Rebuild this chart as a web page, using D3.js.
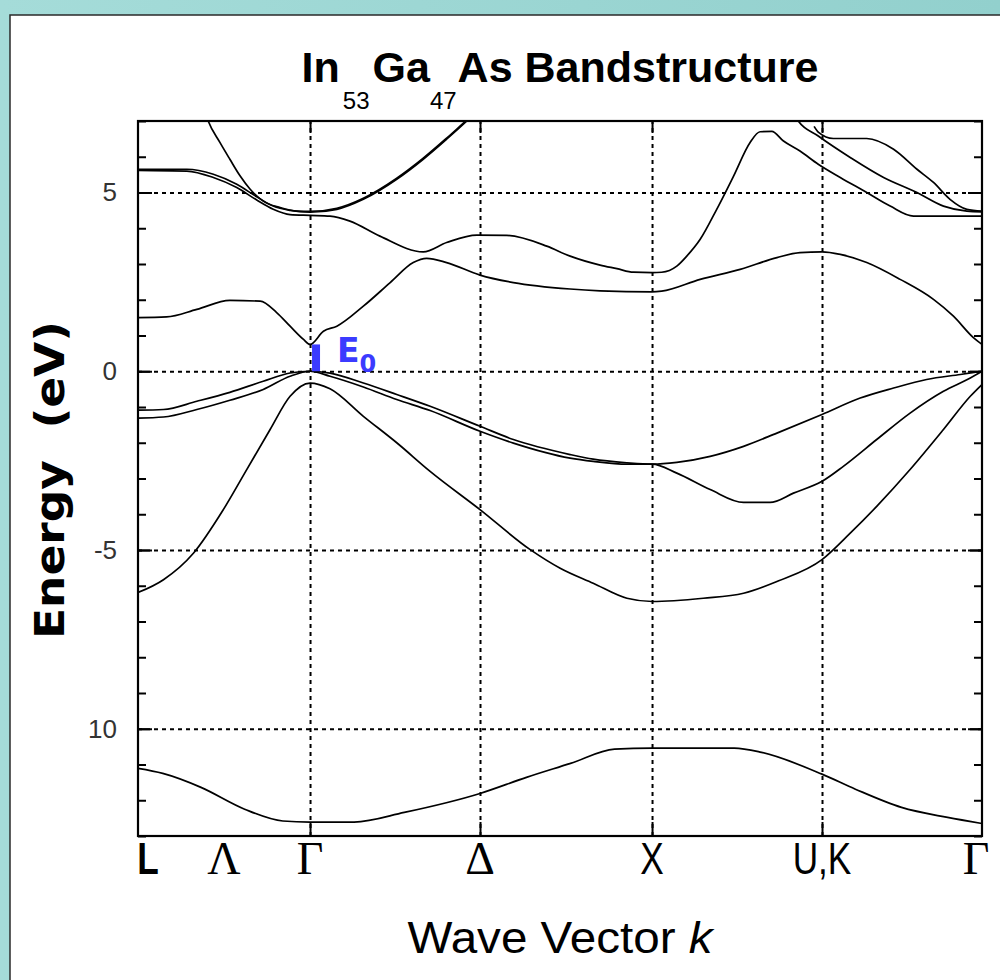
<!DOCTYPE html>
<html>
<head>
<meta charset="utf-8">
<script src="https://cdn.jsdelivr.net/npm/d3@7"></script>
<style>
html, body { margin: 0; padding: 0; background: #9dd8d5; }
svg { display: block; }
</style>
</head>
<body>
<svg id="chart" width="1000" height="980"></svg>
<script>
// symmetry points along the k path (arbitrary units)
const kPoints = [0, 0.25, 0.5, 0.994, 1.494, 1.988, 2.453];
const kLabels = ["L", "Λ", "Γ", "Δ", "X", "U,K", "Γ"];
const gridK = [0.5, 0.994, 1.494, 1.988];
const eTicks = [5, 0, -5, -10];
const eTickLabels = ["5", "0", "-5", "10"];
const gapE0 = 0.75;

// bands, [k, energy in eV]
const bandS = [[0,-11.11],[0.072,-11.25],[0.183,-11.64],[0.310,-12.25],[0.421,-12.58],[0.5,-12.61],[0.628,-12.61],[0.774,-12.34],[0.994,-11.81],[1.129,-11.36],[1.257,-10.97],[1.385,-10.57],[1.494,-10.54],[1.733,-10.54],[1.812,-10.66],[1.988,-11.27],[2.085,-11.69],[2.219,-12.20],[2.353,-12.48],[2.453,-12.65]];
const bandSO = [[0,-6.19],[0.074,-5.83],[0.161,-5.09],[0.248,-3.87],[0.316,-2.75],[0.384,-1.63],[0.442,-0.70],[0.5,-0.33],[0.558,-0.49],[0.655,-1.26],[0.752,-2.0],[0.849,-2.8],[0.994,-3.87],[1.140,-4.99],[1.227,-5.51],[1.323,-5.93],[1.421,-6.35],[1.494,-6.44],[1.643,-6.35],[1.760,-6.21],[1.857,-5.88],[1.988,-5.27],[2.070,-4.53],[2.147,-3.78],[2.244,-2.75],[2.341,-1.63],[2.419,-0.70],[2.453,-0.37]];
const bandHH = [[0,-1.09],[0.074,-1.07],[0.171,-0.84],[0.267,-0.59],[0.364,-0.28],[0.442,-0.05],[0.5,0],[0.558,-0.05],[0.655,-0.33],[0.752,-0.65],[0.849,-0.98],[0.994,-1.54],[1.091,-1.91],[1.256,-2.33],[1.323,-2.46],[1.421,-2.56],[1.494,-2.60],[1.566,-2.55],[1.663,-2.38],[1.760,-2.10],[1.857,-1.73],[1.988,-1.21],[2.099,-0.75],[2.196,-0.47],[2.292,-0.23],[2.390,-0.09],[2.453,0]];
const bandLH = [[0,-1.31],[0.074,-1.28],[0.171,-1.07],[0.267,-0.81],[0.364,-0.51],[0.442,-0.14],[0.5,0],[0.558,-0.14],[0.655,-0.44],[0.752,-0.79],[0.849,-1.10],[0.994,-1.68],[1.091,-2.01],[1.256,-2.43],[1.323,-2.52],[1.421,-2.60],[1.494,-2.60],[1.566,-2.85],[1.663,-3.31],[1.760,-3.67],[1.837,-3.67],[1.905,-3.41],[1.988,-3.08],[2.050,-2.66],[2.147,-1.91],[2.244,-1.17],[2.341,-0.56],[2.419,-0.19],[2.453,0]];
const bandC1 = [[0,1.50],[0.083,1.52],[0.171,1.73],[0.267,1.98],[0.355,1.96],[0.403,1.64],[0.442,1.26],[0.481,0.89],[0.5,0.75],[0.539,1.12],[0.578,1.26],[0.655,1.82],[0.733,2.48],[0.800,3.04],[0.839,3.16],[0.897,3.04],[0.994,2.69],[1.091,2.48],[1.256,2.30],[1.343,2.25],[1.494,2.22],[1.522,2.24],[1.634,2.57],[1.750,2.85],[1.857,3.18],[1.924,3.32],[1.988,3.34],[2.041,3.27],[2.118,3.04],[2.215,2.57],[2.312,2.01],[2.370,1.54],[2.428,0.94],[2.453,0.75]];
const bandC2 = [[0,5.62],[0.142,5.60],[0.219,5.42],[0.287,5.14],[0.345,4.79],[0.393,4.53],[0.442,4.38],[0.5,4.36],[0.558,4.34],[0.616,4.20],[0.703,3.78],[0.829,3.34],[0.897,3.60],[0.985,3.81],[1.072,3.80],[1.188,3.50],[1.256,3.22],[1.343,2.97],[1.392,2.87],[1.440,2.77],[1.494,2.76],[1.522,2.77],[1.566,2.94],[1.595,3.22],[1.634,3.69],[1.682,4.53],[1.731,5.46],[1.779,6.40],[1.808,6.70],[1.842,6.71],[1.876,6.44],[1.924,6.16],[1.977,5.79],[2.041,5.42],[2.118,5.0],[2.186,4.62],[2.254,4.34],[2.453,4.34]];
const bandC3 = [[0,5.65],[0.142,5.65],[0.219,5.51],[0.287,5.23],[0.345,4.88],[0.393,4.62],[0.442,4.50],[0.5,4.45],[0.578,4.53],[0.655,4.81],[0.752,5.37],[0.829,5.93],[0.897,6.49],[0.956,7.0],[1.0,7.4]];
const bandC4 = [[0.190,7.4],[0.204,7.0],[0.238,6.40],[0.267,5.93],[0.297,5.46],[0.326,5.09],[0.364,4.76],[0.413,4.58],[0.461,4.48],[0.5,4.47],[0.578,4.56],[0.655,4.84],[0.752,5.40],[0.829,5.96],[0.897,6.52],[0.956,7.03],[1.0,7.4]];
const bandA = [[1.900,7.3],[1.919,7.0],[1.977,6.58],[2.070,5.98],[2.167,5.42],[2.264,5.0],[2.341,4.62],[2.409,4.48],[2.453,4.46]];
const bandB = [[1.965,6.85],[1.978,6.68],[2.021,6.51],[2.118,6.51],[2.196,6.21],[2.264,5.65],[2.312,5.28],[2.360,4.81],[2.409,4.53],[2.453,4.48]];

const bands = [bandS, bandSO, bandHH, bandLH, bandC1, bandC2, bandC3, bandC4, bandA, bandB];

const margin = {top: 121, right: 18, bottom: 144, left: 138},
  width = 1000 - margin.left - margin.right,
  height = 980 - margin.top - margin.bottom;

const svg = d3.select("#chart");

// teal page and white panel
const grad = svg.append("defs").append("linearGradient")
  .attr("id", "teal").attr("x1", 0).attr("x2", 1).attr("y1", 0).attr("y2", 0);
grad.append("stop").attr("offset", 0).attr("stop-color", "#a5dcd9");
grad.append("stop").attr("offset", 1).attr("stop-color", "#92d0cd");
svg.append("rect").attr("width", 1000).attr("height", 980).attr("fill", "url(#teal)");
svg.append("rect")
  .attr("x", 10).attr("y", 15).attr("width", 1000).attr("height", 1000)
  .attr("fill", "#fff").attr("stroke", "#2a2a2a").attr("stroke-width", 1.5);

svg.select("defs").append("clipPath").attr("id", "plotclip")
  .append("rect").attr("width", width).attr("height", height);

const g = svg.append("g")
  .attr("transform", `translate(${margin.left},${margin.top})`);

const x = d3.scaleLinear().domain([0, 2.453]).range([0, width]);
const y = d3.scaleLinear().domain([-13, 7]).range([height, 0]);

// dashed grid
const gridY = g.append("g")
  .call(d3.axisLeft(y).tickValues(eTicks).tickSize(-width).tickFormat(""));
const gridX = g.append("g")
  .attr("transform", `translate(0,${height})`)
  .call(d3.axisBottom(x).tickValues(gridK).tickSize(-height).tickFormat(""));
[gridY, gridX].forEach(a => {
  a.select(".domain").remove();
  a.selectAll("line").attr("stroke", "#000").attr("stroke-width", 2).attr("stroke-dasharray", "4,4");
});

// bands
const line = d3.line()
  .x(d => x(d[0]))
  .y(d => y(d[1]))
  .curve(d3.curveMonotoneX);

g.append("g").attr("clip-path", "url(#plotclip)")
  .selectAll("path")
  .data(bands)
  .enter()
  .append("path")
  .attr("d", line)
  .attr("fill", "none")
  .attr("stroke", "#000")
  .attr("stroke-width", 1.7);

// frame
g.append("rect")
  .attr("width", width).attr("height", height)
  .attr("fill", "none").attr("stroke", "#000").attr("stroke-width", 2.2);

// ticks
const minor = d3.range(-13, 8);
const tickAxes = [
  g.append("g").call(d3.axisLeft(y).tickValues(minor).tickSize(-8).tickFormat("")),
  g.append("g").attr("transform", `translate(${width},0)`)
    .call(d3.axisRight(y).tickValues(minor).tickSize(-8).tickFormat("")),
  g.append("g").call(d3.axisLeft(y).tickValues(eTicks).tickSize(-14).tickFormat("")),
  g.append("g").attr("transform", `translate(${width},0)`)
    .call(d3.axisRight(y).tickValues(eTicks).tickSize(-14).tickFormat("")),
  g.append("g").call(d3.axisTop(x).tickValues(gridK).tickSize(-12).tickFormat("")),
  g.append("g").attr("transform", `translate(0,${height})`)
    .call(d3.axisBottom(x).tickValues(gridK).tickSize(-14).tickFormat(""))
];
tickAxes.forEach(a => {
  a.select(".domain").remove();
  a.selectAll("line").attr("stroke", "#000").attr("stroke-width", 2);
});

// energy tick labels
g.append("g")
  .call(d3.axisLeft(y).tickValues(eTicks).tickSize(0).tickPadding(21)
    .tickFormat((d, i) => eTickLabels[i]))
  .call(a => a.select(".domain").remove())
  .selectAll("text")
  .attr("fill", "#333")
  .attr("font-family", "Liberation Sans, Arial, sans-serif")
  .attr("font-size", 26);

// k labels
const isGreek = s => /[\u0370-\u03ff]/.test(s);
g.selectAll(".klabel")
  .data(kPoints)
  .enter()
  .append("text")
  .attr("class", "klabel")
  .attr("transform", (d, i) => {
    let px = x(d);
    if (i === 0) px += 10;
    if (i === kPoints.length - 1) px -= 6;
    return `translate(${px},${height + 38})` + (isGreek(kLabels[i]) ? "" : " scale(0.8,1)");
  })
  .attr("text-anchor", "middle")
  .attr("font-family", (d, i) => isGreek(kLabels[i]) ? "Liberation Serif, Times New Roman, serif" : "Liberation Sans, Arial, sans-serif")
  .attr("font-size", (d, i) => isGreek(kLabels[i]) ? 46 : 44)
  .attr("font-weight", (d, i) => kLabels[i] === "L" ? "bold" : "normal")
  .text((d, i) => kLabels[i]);

// E0 gap marker
g.append("rect")
  .attr("x", x(kPoints[2]) + 2)
  .attr("y", y(gapE0))
  .attr("width", 8)
  .attr("height", y(0) - y(gapE0))
  .attr("fill", "#3b3bff");
const e0 = g.append("text")
  .attr("x", x(kPoints[2]) + 27)
  .attr("y", y(0) - 9)
  .attr("fill", "#3b3bff")
  .attr("font-family", "DejaVu Sans, Verdana, sans-serif")
  .attr("font-weight", "bold")
  .attr("font-size", 33)
  .text("E");
e0.append("tspan").attr("font-size", 24).attr("dy", 10).text("0");

// title
const title = svg.append("text")
  .attr("x", margin.left + width / 2)
  .attr("y", 82)
  .attr("text-anchor", "middle")
  .attr("font-family", "Liberation Sans, Arial, sans-serif")
  .attr("font-weight", "bold")
  .attr("font-size", 43);
title.append("tspan").text("In");
title.append("tspan").attr("dx", 3).attr("dy", 27).attr("font-size", 24).attr("font-weight", "normal").text("53");
title.append("tspan").attr("dx", 3).attr("dy", -27).text("Ga");
title.append("tspan").attr("dx", 0).attr("dy", 27).attr("font-size", 24).attr("font-weight", "normal").text("47");
title.append("tspan").attr("dx", 1).attr("dy", -27).text("As Bandstructure");

// axis titles
svg.append("text")
  .attr("x", margin.left + width / 2)
  .attr("y", 953)
  .attr("text-anchor", "middle")
  .attr("font-family", "Liberation Sans, Arial, sans-serif")
  .attr("font-size", 45)
  .attr("textLength", 305)
  .attr("lengthAdjust", "spacingAndGlyphs")
  .call(t => t.append("tspan").text("Wave Vector "))
  .call(t => t.append("tspan").attr("font-style", "italic").text("k"));

svg.append("text")
  .attr("transform", "translate(64,480) rotate(-90)")
  .attr("text-anchor", "middle")
  .attr("font-family", "DejaVu Sans, Verdana, sans-serif")
  .attr("font-weight", "bold")
  .attr("font-size", 41)
  .attr("textLength", 318)
  .attr("lengthAdjust", "spacingAndGlyphs")
  .style("white-space", "pre")
  .text("Energy  (eV)");
</script>
</body>
</html>
